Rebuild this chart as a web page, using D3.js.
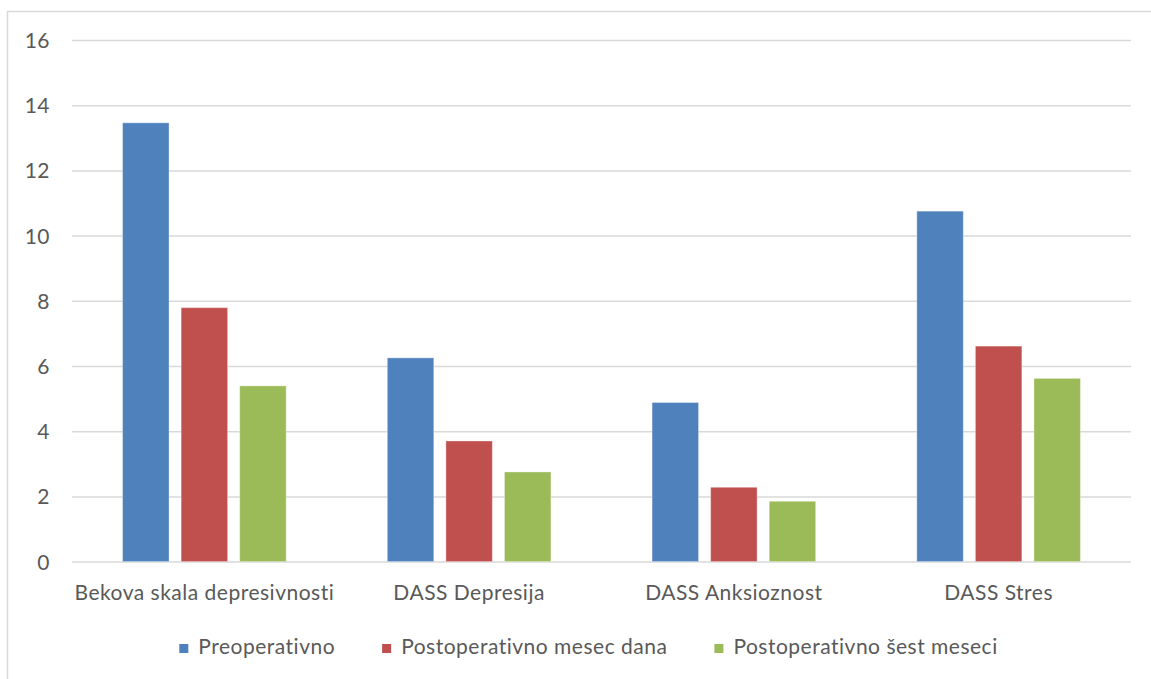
<!DOCTYPE html>
<html>
<head>
<meta charset="utf-8">
<script src="https://cdn.jsdelivr.net/npm/d3@7"></script>
<style>
  html, body { margin: 0; padding: 0; background: #fff; }
  svg { display: block; }
  text { font-family: Lato, "Open Sans", sans-serif; fill: #595959; }
</style>
</head>
<body>
<svg id="chart" width="1151" height="679"></svg>
<script>
const categories = ["Bekova skala depresivnosti", "DASS Depresija", "DASS Anksioznost", "DASS Stres"];
const seriesNames = ["Preoperativno", "Postoperativno mesec dana", "Postoperativno šest meseci"];
const preoperativno = [13.46, 6.25, 4.88, 10.75];
const mesecDana = [7.79, 3.70, 2.28, 6.61];
const sestMeseci = [5.39, 2.75, 1.85, 5.62];
const yTicks = [0, 2, 4, 6, 8, 10, 12, 14, 16];
const colors = ["#4f81bd", "#c0504d", "#9bbb59"];

(function () {
const seriesValues = [preoperativno, mesecDana, sestMeseci];
const data = categories.map((c, i) => ({
  category: c,
  values: seriesNames.map((s, j) => ({ series: s, value: seriesValues[j][i], idx: j }))
}));

const svg = d3.select("#chart");
const FONT = "Lato, 'Open Sans', sans-serif";

// outer chart border (only left and top visible in reference)
svg.append("rect")
  .attr("x", 7.5).attr("y", 11.5)
  .attr("width", 1160).attr("height", 700)
  .attr("fill", "none").attr("stroke", "#d9d9d9").attr("stroke-width", 1.5);

const pLeft = 72, pRight = 1131, pTop = 40, pBottom = 561.6;

const x0 = d3.scaleBand().domain(categories).range([pLeft, pRight]).paddingInner(0).paddingOuter(0);
const y = d3.scaleLinear().domain([0, 16]).range([pBottom, pTop]);

const groupW = x0.bandwidth() * 0.618;
const x1 = d3.scaleBand().domain(seriesNames).range([0, groupW]).paddingInner(0.2065).paddingOuter(0);

// gridlines via axis
const yAxis = d3.axisLeft(y).tickValues(yTicks).tickSize(-(pRight - pLeft)).tickPadding(22);
const gy = svg.append("g").attr("transform", `translate(${pLeft},0)`).call(yAxis);
gy.select(".domain").remove();
gy.selectAll(".tick line").attr("stroke", "#d9d9d9").attr("stroke-width", 1.5);
gy.selectAll(".tick text")
  .attr("fill", "#595959")
  .style("font-size", "21px")
  .style("letter-spacing", "0.5px")
  .style("font-family", FONT)
  .attr("dy", "0.36em");

// bars
const groups = svg.append("g").selectAll("g.cat")
  .data(data).enter().append("g")
  .attr("class", "cat")
  .attr("transform", d => `translate(${x0(d.category) + (x0.bandwidth() - groupW) / 2},0)`);

groups.selectAll("rect")
  .data(d => d.values).enter().append("rect")
  .attr("x", d => x1(d.series))
  .attr("y", d => y(d.value))
  .attr("width", x1.bandwidth())
  .attr("height", d => y(0) - y(d.value))
  .attr("fill", d => colors[d.idx])
  .attr("stroke", "rgba(255,255,255,0.35)")
  .attr("stroke-width", 1);

// category labels
const xAxis = d3.axisBottom(x0).tickSize(0).tickPadding(0);
const gx = svg.append("g").attr("transform", `translate(0,${pBottom})`).call(xAxis);
gx.select(".domain").remove();
gx.selectAll(".tick text")
  .attr("y", 0)
  .attr("dy", 0)
  .attr("transform", "translate(0,38.5)")
  .attr("fill", "#595959")
  .style("font-size", "21px")
  .style("letter-spacing", "0.5px")
  .style("font-family", FONT);

// legend
const legend = svg.append("g");
const items = legend.selectAll("g").data(seriesNames).enter().append("g");
items.append("rect")
  .attr("width", 9).attr("height", 9)
  .attr("y", 644)
  .attr("fill", (d, i) => colors[i]);
items.append("text")
  .attr("x", 19).attr("y", 654)
  .style("font-size", "21px")
  .style("letter-spacing", "0.5px")
  .style("font-family", FONT)
  .text(d => d);
const widths = [];
items.each(function () { widths.push(d3.select(this).select("text").node().getComputedTextLength()); });
const gap = 47;
const total = widths.reduce((a, w) => a + 19 + w, 0) + gap * (widths.length - 1);
let cx = 588.5 - total / 2;
items.each(function (d, i) {
  d3.select(this).attr("transform", `translate(${cx},0)`);
  cx += 19 + widths[i] + gap;
});
})();
</script>
</body>
</html>
